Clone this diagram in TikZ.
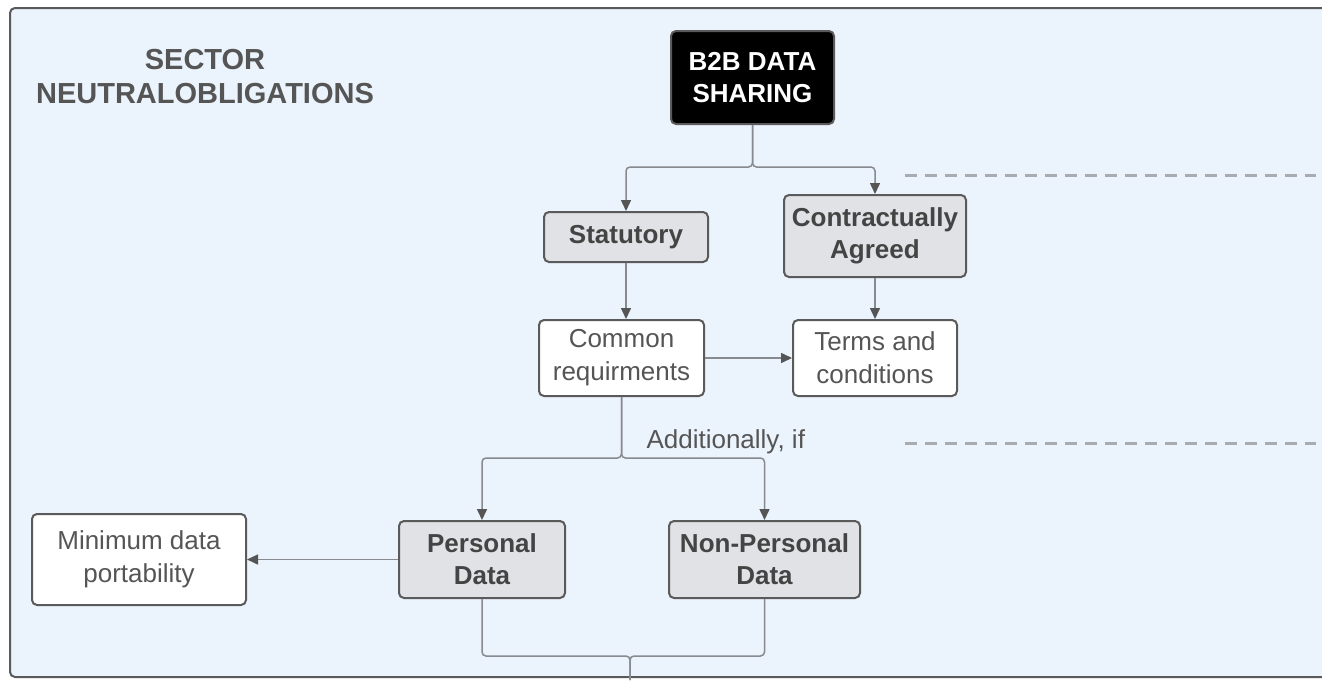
\documentclass[tikz,border=0pt]{standalone}
\usepackage{fontspec}
\setmainfont{Liberation Sans}
\usetikzlibrary{arrows.meta}
\definecolor{bgblue}{RGB}{235,243,253}
\definecolor{frame}{RGB}{90,90,90}
\definecolor{boxgray}{RGB}{224,226,230}
\definecolor{txtgray}{RGB}{85,85,85}
\definecolor{boldgray}{RGB}{68,68,68}
\definecolor{connc}{RGB}{135,138,142}
\definecolor{tipc}{RGB}{85,85,85}
\definecolor{dashc}{RGB}{168,171,176}
\tikzset{
  basebox/.style={draw=frame, line width=2pt, rounded corners=5pt, inner sep=0pt, align=center, font=\fontsize{26}{33}\selectfont},
  graybox/.style={basebox, fill=boxgray, text=boldgray, font=\fontsize{26}{32}\selectfont\bfseries},
  whitebox/.style={basebox, fill=white, text=txtgray},
  blackbox/.style={basebox, fill=black, text=white, font=\fontsize{26}{32}\selectfont\bfseries},
  conn/.style={draw=connc, line width=1.5pt, rounded corners=4pt},
  arr/.style={conn, -{Triangle[length=11pt,width=10pt,color=tipc]}},
  dashline/.style={draw=dashc, line width=3pt, dash pattern=on 12pt off 8pt}
}
\begin{document}
\begin{tikzpicture}[x=1pt,y=-1pt]
\useasboundingbox (0,0) rectangle (1322,680);
\begin{scope}
\clip (0,0) rectangle (1322,680);
\draw[fill=bgblue, draw=frame, line width=2pt, rounded corners=5pt] (10,8) rectangle (1345,677);
\end{scope}

\node[text=txtgray, font=\fontsize{29}{34}\selectfont\bfseries, align=center] (title) at (205,77) {SECTOR\\NEUTRALOBLIGATIONS};

\node[blackbox, minimum width=163pt, minimum height=93pt] (b2b) at (752.5,77.5) {B2B DATA\\SHARING};
\node[graybox, minimum width=164pt, minimum height=50pt] (stat) at (626,237) {Statutory};
\node[graybox, minimum width=182pt, minimum height=82pt] (contr) at (875,236) {Contractually\\Agreed};
\node[whitebox, minimum width=165pt, minimum height=76pt] (common) at (621.5,358) {Common\\requirments};
\node[whitebox, minimum width=164pt, minimum height=76pt] (terms) at (875,358) {Terms and\\conditions};
\node[graybox, minimum width=166pt, minimum height=77pt] (pers) at (482,559.5) {Personal\\Data};
\node[graybox, minimum width=191pt, minimum height=77pt] (nonp) at (764.5,559.5) {Non-Personal\\Data};
\node[whitebox, minimum width=214pt, minimum height=91pt] (mini) at (139,559.5) {Minimum data\\portability};

\node[text=txtgray, font=\fontsize{26}{31}\selectfont, anchor=west] (addl) at (643,442) {Additionally, if};

\coordinate (s1) at (752.5,167);
\coordinate (s2) at (621.5,458);
\coordinate (s3) at (630,656);
\coordinate (s3end) at (630,680);
\coordinate (d1a) at (905,175);
\coordinate (d1b) at (1316,175);
\coordinate (d2a) at (905,443);
\coordinate (d2b) at (1316,443);

\draw[arr] (b2b.south) -- (s1) -| (stat.north);
\draw[arr] (b2b.south) -- (s1) -| (contr.north);
\draw[arr] (stat.south) -- (stat.south |- common.north);
\draw[arr] (contr.south) -- (contr.south |- terms.north);
\draw[arr] (common.east) -- (terms.west);
\draw[arr] (common.south) -- (s2) -| (pers.north);
\draw[arr] (common.south) -- (s2) -| (nonp.north);
\draw[arr] (pers.west) -- (mini.east);
\draw[conn] (pers.south) |- (s3) -- (s3end);
\draw[conn] (nonp.south) |- (s3) -- (s3end);

\draw[dashline] (d1a) -- (d1b);
\draw[dashline] (d2a) -- (d2b);
\end{tikzpicture}
\end{document}
